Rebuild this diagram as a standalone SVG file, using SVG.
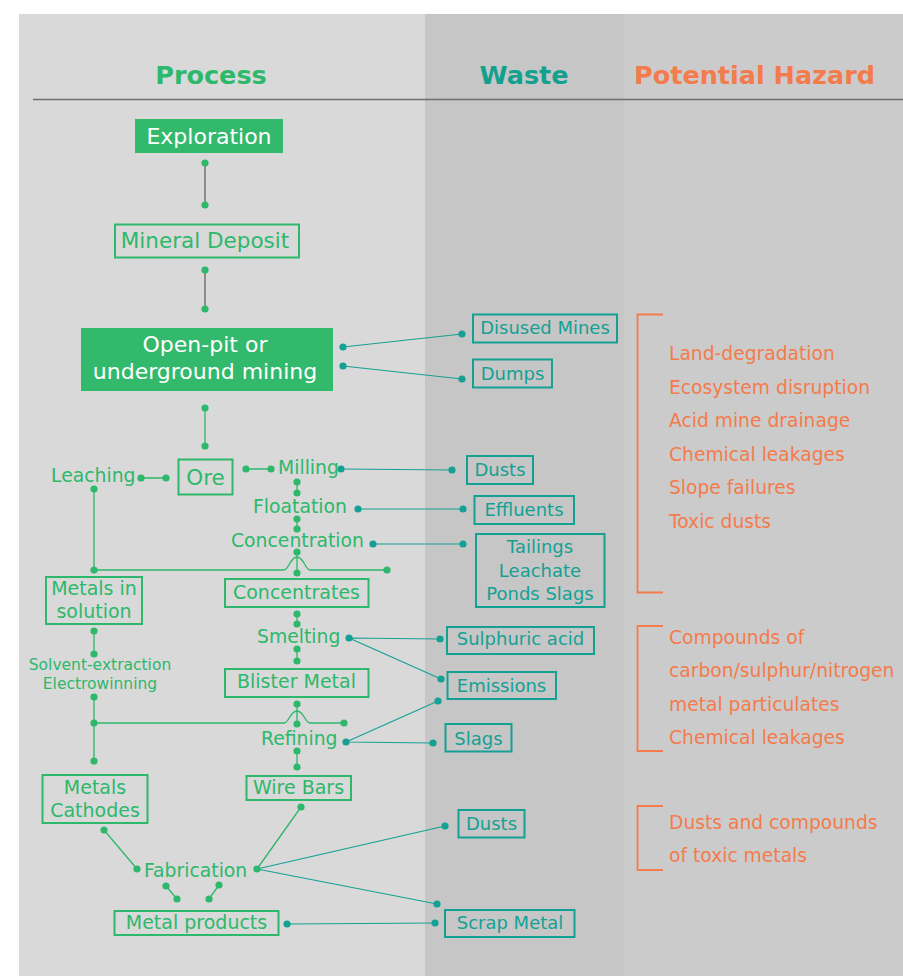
<svg xmlns="http://www.w3.org/2000/svg" width="903" height="976" viewBox="0 0 903 976">
<style>
text{font-family:"DejaVu Sans","Liberation Sans",sans-serif;}
.h{font-weight:bold;font-size:25.5px;}
.bx{fill:none;stroke:#2db86b;stroke-width:2;}
.bf{fill:#33b96c;}
.wb{fill:none;stroke:#14a194;stroke-width:2;}
.tw{fill:#fff;font-size:22px;text-anchor:middle;}
.tg{fill:#2db86b;font-size:19px;text-anchor:middle;}
.tb{fill:#2db86b;font-size:21.5px;text-anchor:middle;}
.tp{fill:#2db86b;font-size:18.8px;}
.tt{fill:#14a194;font-size:18px;}
.to{fill:#f47b4c;font-size:18.7px;}
.lg{stroke:#7a7a7a;stroke-width:1.6;fill:none;}
.ln{stroke:#2db86b;stroke-width:1.3;fill:none;}
.lt{stroke:#14a194;stroke-width:1.2;fill:none;}
.dg{fill:#2db86b;}
.dt{fill:#14a194;}
.br{fill:none;stroke:#f47b4c;stroke-width:1.8;}
</style>
<rect x="0" y="0" width="903" height="976" fill="#ffffff"/>
<rect x="19" y="14" width="884" height="962" fill="#d9d9d9"/>
<rect x="425" y="14" width="199" height="962" fill="#c6c6c6"/>
<rect x="624" y="14" width="279" height="962" fill="#cbcbcb"/>
<line x1="33" y1="99.5" x2="903" y2="99.5" stroke="#6e6e6e" stroke-width="1.5"/>
<g id="headers">
<text class="h" x="211" y="84" fill="#2db86b" text-anchor="middle">Process</text>
<text class="h" x="524" y="84" fill="#13a08f" text-anchor="middle">Waste</text>
<text class="h" x="634" y="84" fill="#f47b4c">Potential Hazard</text>
</g>
<g id="connectors">
<path class="lg" d="M205 163V205M205 270V309"/>
<path class="ln" d="M205 408V446M246 469H271M141 478H166M297 482V493M297 519V529M297 552V573M297 614V624M94 631V654M297 649V661M94 697V761M297 704V724M297 751V767M104 830L137 869M301 807L257 869M166 886L177 899M219 885L209 899"/>
<path class="ln" d="M94 489V570H284C289 570 290 557 297 557C304 557 305 570 310 570H387"/>
<path class="ln" d="M94 723H284C289 723 290 711 297 711C304 711 305 723 310 723H344"/>
<path class="lt" d="M343 347L462 334M343 366L462 379M341 469L452 470M358 509H463M373 544H463M349 638L440 639M349 638L441 679M346 742L438 701M346 742L433 743M257 869L445 826M257 869L437 904M287 924L435 923"/>
<g class="dg">
<circle cx="205" cy="163" r="3.6"/><circle cx="205" cy="205" r="3.6"/>
<circle cx="205" cy="270" r="3.6"/><circle cx="205" cy="309" r="3.6"/>
<circle cx="205" cy="408" r="3.6"/><circle cx="205" cy="446" r="3.6"/>
<circle cx="246" cy="469" r="3.6"/><circle cx="271" cy="469" r="3.6"/>
<circle cx="141" cy="478" r="3.6"/><circle cx="166" cy="478" r="3.6"/>
<circle cx="297" cy="482" r="3.6"/><circle cx="297" cy="493" r="3.6"/>
<circle cx="297" cy="519" r="3.6"/><circle cx="297" cy="529" r="3.6"/>
<circle cx="297" cy="552" r="3.6"/><circle cx="297" cy="573" r="3.6"/>
<circle cx="94" cy="489" r="3.6"/><circle cx="94" cy="570" r="3.6"/><circle cx="387" cy="570" r="3.6"/>
<circle cx="297" cy="614" r="3.6"/><circle cx="297" cy="624" r="3.6"/>
<circle cx="94" cy="631" r="3.6"/><circle cx="94" cy="654" r="3.6"/>
<circle cx="297" cy="649" r="3.6"/><circle cx="297" cy="661" r="3.6"/>
<circle cx="94" cy="697" r="3.6"/><circle cx="94" cy="723" r="3.6"/><circle cx="94" cy="761" r="3.6"/><circle cx="344" cy="723" r="3.6"/>
<circle cx="297" cy="704" r="3.6"/><circle cx="297" cy="724" r="3.6"/>
<circle cx="297" cy="751" r="3.6"/><circle cx="297" cy="767" r="3.6"/>
<circle cx="104" cy="830" r="3.6"/><circle cx="137" cy="869" r="3.6"/>
<circle cx="301" cy="807" r="3.6"/><circle cx="257" cy="869" r="3.6"/>
<circle cx="166" cy="886" r="3.6"/><circle cx="177" cy="899" r="3.6"/>
<circle cx="219" cy="885" r="3.6"/><circle cx="209" cy="899" r="3.6"/>
</g>
<g class="dt">
<circle cx="343" cy="347" r="3.6"/><circle cx="462" cy="334" r="3.6"/>
<circle cx="343" cy="366" r="3.6"/><circle cx="462" cy="379" r="3.6"/>
<circle cx="341" cy="469" r="3.6"/><circle cx="452" cy="470" r="3.6"/>
<circle cx="358" cy="509" r="3.6"/><circle cx="463" cy="509" r="3.6"/>
<circle cx="373" cy="544" r="3.6"/><circle cx="463" cy="544" r="3.6"/>
<circle cx="349" cy="638" r="3.6"/><circle cx="440" cy="639" r="3.6"/><circle cx="441" cy="679" r="3.6"/>
<circle cx="346" cy="742" r="3.6"/><circle cx="438" cy="701" r="3.6"/><circle cx="433" cy="743" r="3.6"/>
<circle cx="445" cy="826" r="3.6"/><circle cx="437" cy="904" r="3.6"/>
<circle cx="287" cy="924" r="3.6"/><circle cx="435" cy="923" r="3.6"/>
</g>
</g>
<g id="exploration"><rect class="bf" x="135" y="119" width="148" height="34"/><text class="tw" x="209" y="143.5">Exploration</text></g>
<g id="mineral-deposit"><rect class="bx" x="115" y="224.5" width="184" height="33"/><text class="tb" x="205" y="248">Mineral Deposit</text></g>
<g id="mining"><rect class="bf" x="81" y="328" width="252" height="63"/><text class="tw" x="205" y="352">Open-pit or</text><text class="tw" x="205" y="379">underground mining</text></g>
<g id="ore"><rect class="bx" x="178.5" y="459.5" width="54" height="35"/><text class="tb" x="205.5" y="485">Ore</text></g>
<g id="leaching"><text class="tp" x="51" y="482">Leaching</text></g>
<g id="milling"><text class="tp" x="278" y="474">Milling</text></g>
<g id="floatation"><text class="tp" x="253" y="513">Floatation</text></g>
<g id="concentration"><text class="tp" x="231" y="547">Concentration</text></g>
<g id="metals-in-solution"><rect class="bx" x="46" y="577" width="96" height="47"/><text class="tg" x="94" y="595">Metals in</text><text class="tg" x="94" y="618">solution</text></g>
<g id="concentrates"><rect class="bx" x="225" y="579" width="143.5" height="28"/><text class="tg" x="296.5" y="599">Concentrates</text></g>
<g id="smelting"><text class="tp" x="257" y="643">Smelting</text></g>
<g id="solvent"><text class="tp" x="100" y="670" text-anchor="middle" style="font-size:15.5px">Solvent-extraction</text><text class="tp" x="100" y="689" text-anchor="middle" style="font-size:15.5px">Electrowinning</text></g>
<g id="blister-metal"><rect class="bx" x="225" y="669" width="143.5" height="28"/><text class="tg" x="296.5" y="688">Blister Metal</text></g>
<g id="refining"><text class="tp" x="261" y="745">Refining</text></g>
<g id="wire-bars"><rect class="bx" x="246.5" y="776" width="104.5" height="24"/><text class="tg" x="298.5" y="794">Wire Bars</text></g>
<g id="metals-cathodes"><rect class="bx" x="42.5" y="775" width="105" height="48"/><text class="tg" x="95" y="794">Metals</text><text class="tg" x="95" y="817">Cathodes</text></g>
<g id="fabrication"><text class="tp" x="144" y="877">Fabrication</text></g>
<g id="metal-products"><rect class="bx" x="114.5" y="911" width="164" height="24"/><text class="tg" x="196.5" y="928.5">Metal products</text></g>
<g id="w-disused-mines"><rect class="wb" x="473" y="314.5" width="144" height="28"/><text class="tt" x="545" y="334" text-anchor="middle">Disused Mines</text></g>
<g id="w-dumps"><rect class="wb" x="473" y="359.5" width="79" height="28"/><text class="tt" x="512.5" y="380" text-anchor="middle">Dumps</text></g>
<g id="w-dusts1"><rect class="wb" x="467" y="456" width="66" height="28"/><text class="tt" x="500" y="476" text-anchor="middle">Dusts</text></g>
<g id="w-effluents"><rect class="wb" x="474.5" y="496" width="99.5" height="28"/><text class="tt" x="524" y="516" text-anchor="middle">Effluents</text></g>
<g id="w-tailings"><rect class="wb" x="476" y="534" width="128.5" height="73"/><text class="tt" x="540" y="553" text-anchor="middle">Tailings</text><text class="tt" x="540" y="577" text-anchor="middle">Leachate</text><text class="tt" x="540" y="599.5" text-anchor="middle">Ponds Slags</text></g>
<g id="w-sulphuric"><rect class="wb" x="447" y="627" width="147" height="27"/><text class="tt" x="520.5" y="645" text-anchor="middle">Sulphuric acid</text></g>
<g id="w-emissions"><rect class="wb" x="447.5" y="672" width="108.5" height="27"/><text class="tt" x="501.5" y="691.5" text-anchor="middle">Emissions</text></g>
<g id="w-slags"><rect class="wb" x="445.5" y="724" width="66" height="27.5"/><text class="tt" x="478.5" y="745" text-anchor="middle">Slags</text></g>
<g id="w-dusts2"><rect class="wb" x="458.5" y="810" width="66" height="27.5"/><text class="tt" x="491.5" y="830" text-anchor="middle">Dusts</text></g>
<g id="w-scrap"><rect class="wb" x="445" y="910" width="129.5" height="27"/><text class="tt" x="510" y="929" text-anchor="middle">Scrap Metal</text></g>
<g id="hazard-1"><path class="br" d="M663 314.5H637.5V592.5H663"/>
<text class="to" x="669" y="360">Land-degradation</text>
<text class="to" x="669" y="393.5">Ecosystem disruption</text>
<text class="to" x="669" y="427">Acid mine drainage</text>
<text class="to" x="669" y="460.5">Chemical leakages</text>
<text class="to" x="669" y="494">Slope failures</text>
<text class="to" x="669" y="527.5">Toxic dusts</text></g>
<g id="hazard-2"><path class="br" d="M663 626H637.5V751H663"/>
<text class="to" x="669" y="643.5">Compounds of</text>
<text class="to" x="669" y="677">carbon/sulphur/nitrogen</text>
<text class="to" x="669" y="710.5">metal particulates</text>
<text class="to" x="669" y="744">Chemical leakages</text></g>
<g id="hazard-3"><path class="br" d="M663 806H637.5V870H663"/>
<text class="to" x="669" y="829">Dusts and compounds</text>
<text class="to" x="669" y="862">of toxic metals</text></g>
</svg>
